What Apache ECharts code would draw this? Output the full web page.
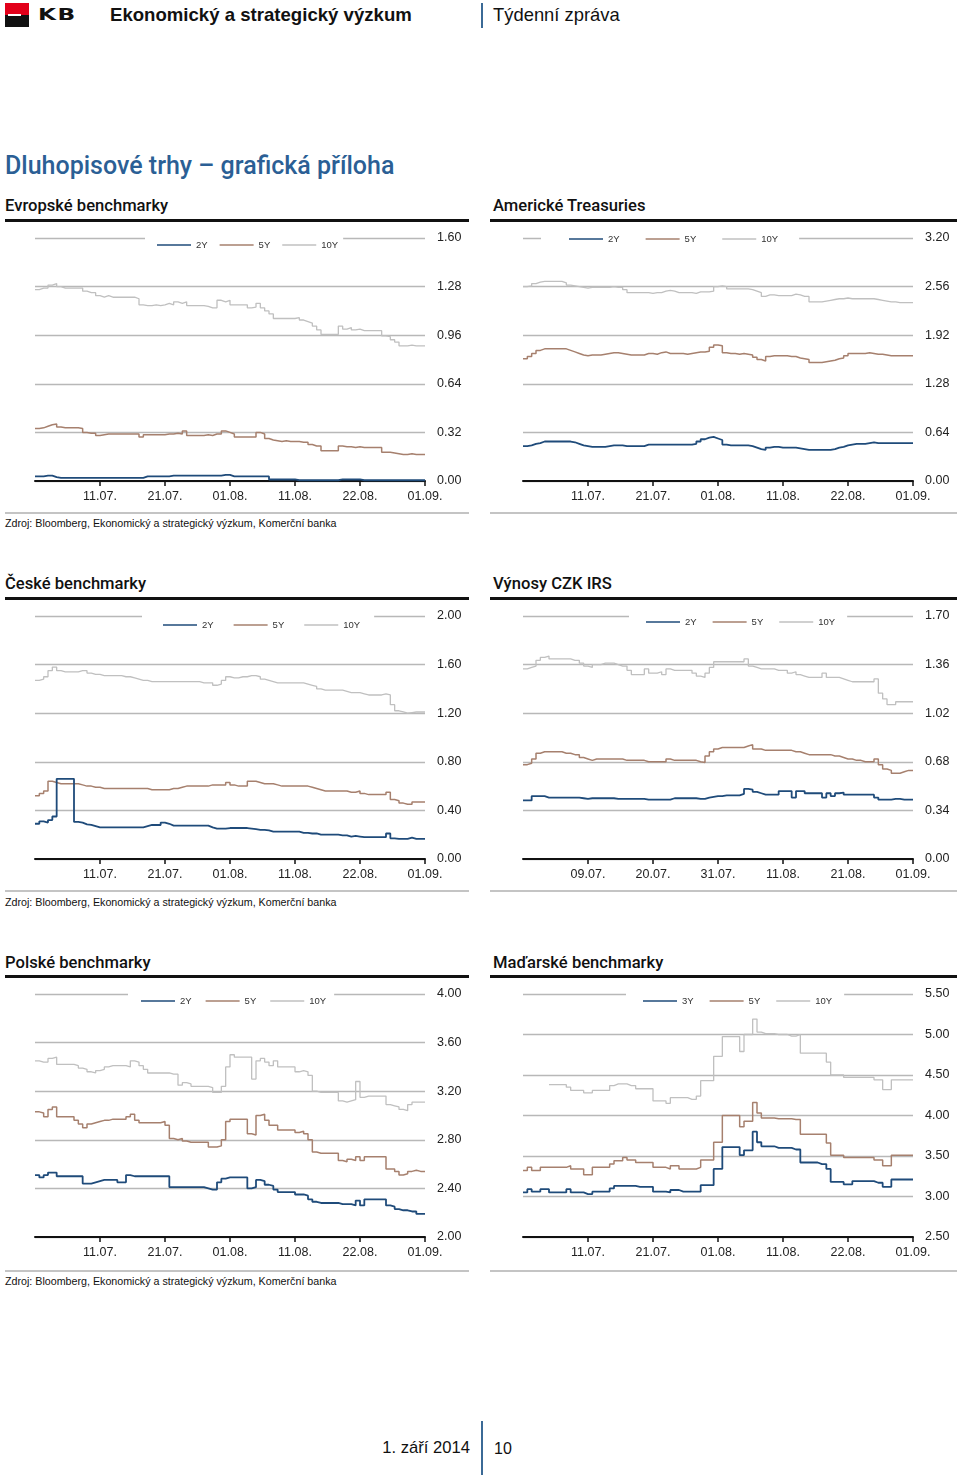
<!DOCTYPE html>
<html><head><meta charset="utf-8">
<script src="https://cdn.jsdelivr.net/npm/echarts/dist/echarts.min.js"></script>
<style>
body{margin:0;width:960px;height:1475px;position:relative;background:#fff;font-family:'Liberation Sans',Arial,sans-serif;color:#111;overflow:hidden}
.t{position:absolute;line-height:1;white-space:nowrap}
.h{font-family:Roboto,'Liberation Sans',sans-serif;font-weight:500;font-size:16.6px;color:#111}
.src{font-size:10.7px;color:#111}
.rule{position:absolute;height:3px;background:#111}
.grule{position:absolute;height:2px;background:#c4c4c4}
.chart{position:absolute;width:480px;height:300px}
</style></head><body>
<!-- header -->
<div style="position:absolute;left:5px;top:3px;width:24px;height:12px;background:#e2001a"></div>
<div style="position:absolute;left:5px;top:15px;width:24px;height:12px;background:#111"></div>
<div style="position:absolute;left:8px;top:14px;width:13px;height:2px;background:#fff"></div>
<div class="t" style="left:38px;top:8px;font-size:15px;font-weight:bold;letter-spacing:1px;font-family:'DejaVu Sans',sans-serif;transform:scaleX(1.55);transform-origin:0 0">KB</div>
<div class="t" style="left:110px;top:6px;font-size:18.6px;font-weight:bold">Ekonomický a strategický výzkum</div>
<div style="position:absolute;left:481px;top:3px;width:2px;height:25px;background:#3b6a96"></div>
<div class="t" style="left:493px;top:6px;font-size:18.4px">Týdenní zpráva</div>
<div class="t" style="left:5px;top:153px;font-size:25px;font-weight:500;color:#2b5f95;font-family:Roboto,'Liberation Sans',sans-serif">Dluhopisové trhy – grafická příloha</div>

<!-- row 1 -->
<div class="t h" style="left:5px;top:198px">Evropské benchmarky</div>
<div class="t h" style="left:493px;top:198px">Americké Treasuries</div>
<div class="rule" style="left:5px;top:219px;width:464px"></div>
<div class="rule" style="left:490px;top:219px;width:467px"></div>
<div class="grule" style="left:5px;top:512px;width:464px"></div>
<div class="grule" style="left:490px;top:512px;width:467px"></div>
<div class="t src" style="left:5px;top:518px">Zdroj: Bloomberg, Ekonomický a strategický výzkum, Komerční banka</div>
<div id="c1" class="chart" style="left:0;top:218px"></div>
<div id="c2" class="chart" style="left:480px;top:218px"></div>

<!-- row 2 -->
<div class="t h" style="left:5px;top:576px">České benchmarky</div>
<div class="t h" style="left:493px;top:576px">Výnosy CZK IRS</div>
<div class="rule" style="left:5px;top:597px;width:464px"></div>
<div class="rule" style="left:490px;top:597px;width:467px"></div>
<div class="grule" style="left:5px;top:890px;width:464px"></div>
<div class="grule" style="left:490px;top:890px;width:467px"></div>
<div class="t src" style="left:5px;top:897px">Zdroj: Bloomberg, Ekonomický a strategický výzkum, Komerční banka</div>
<div id="c3" class="chart" style="left:0;top:596px"></div>
<div id="c4" class="chart" style="left:480px;top:596px"></div>

<!-- row 3 -->
<div class="t h" style="left:5px;top:955px">Polské benchmarky</div>
<div class="t h" style="left:493px;top:955px">Maďarské benchmarky</div>
<div class="rule" style="left:5px;top:975px;width:464px"></div>
<div class="rule" style="left:490px;top:975px;width:467px"></div>
<div class="grule" style="left:5px;top:1270px;width:464px"></div>
<div class="grule" style="left:490px;top:1270px;width:467px"></div>
<div class="t src" style="left:5px;top:1276px">Zdroj: Bloomberg, Ekonomický a strategický výzkum, Komerční banka</div>
<div id="c5" class="chart" style="left:0;top:974px"></div>
<div id="c6" class="chart" style="left:480px;top:974px"></div>

<!-- footer -->
<div class="t" style="right:490px;top:1440px;font-size:16.6px">1. září 2014</div>
<div style="position:absolute;left:481px;top:1421px;width:2px;height:54px;background:#3b6a96"></div>
<div class="t" style="left:494px;top:1441px;font-size:16px">10</div>

<script>
// ---- axis / tick data ----
const tickIdx = [15, 30, 45, 60, 75, 90];
const ticksStd = ['11.07.', '21.07.', '01.08.', '11.08.', '22.08.', '01.09.'];
const ticksIrs = ['09.07.', '20.07.', '31.07.', '11.08.', '21.08.', '01.09.'];
const categories = Array.from({length: 91}, (_, i) => i);
const namesStd = ['2Y', '5Y', '10Y'];
const namesHu = ['3Y', '5Y', '10Y'];

// ---- Evropské benchmarky ----
const eu2y = [0.03,0.03,0.035,0.035,0.025,0.02,0.02,0.02,0.02,0.02,
0.02,0.02,0.02,0.02,0.02,0.02,0.02,0.02,0.02,0.02,
0.02,0.02,0.02,0.02,0.02,0.03,0.03,0.03,0.03,0.03,
0.03,0.035,0.035,0.035,0.035,0.035,0.035,0.035,0.035,0.035,
0.035,0.035,0.035,0.04,0.04,0.03,0.03,0.03,0.03,0.03,
0.03,0.03,0.03,0.03,0.01,0.01,0.01,0.01,0.01,0.01,
0.005,0.005,0.005,0.005,0.005,0.005,0.005,0.005,0.005,0.005,
0.01,0.01,0.01,0.01,0.01,0.005,0.005,0.005,0.005,0.005,
0.005,0.005,0.005,0.005,0.005,0.005,0.005,0.005,0.005,0.005,
0.005];
const eu5y = [0.345,0.35,0.36,0.37,0.375,0.355,0.35,0.35,0.35,0.35,
0.345,0.32,0.315,0.315,0.30,0.305,0.31,0.31,0.31,0.31,
0.31,0.31,0.31,0.31,0.29,0.305,0.305,0.305,0.305,0.305,
0.31,0.31,0.315,0.31,0.33,0.30,0.30,0.30,0.30,0.305,
0.30,0.31,0.31,0.33,0.32,0.31,0.29,0.29,0.29,0.29,
0.29,0.32,0.31,0.28,0.27,0.265,0.26,0.265,0.26,0.26,
0.26,0.255,0.255,0.24,0.23,0.23,0.20,0.20,0.20,0.20,
0.23,0.225,0.225,0.22,0.225,0.22,0.22,0.22,0.22,0.22,
0.19,0.19,0.185,0.18,0.175,0.175,0.18,0.175,0.175,0.175,
0.175];
const eu10y = [1.26,1.27,1.27,1.29,1.30,1.28,1.27,1.27,1.27,1.27,
1.27,1.25,1.24,1.24,1.22,1.21,1.22,1.21,1.21,1.21,
1.21,1.21,1.21,1.20,1.16,1.155,1.155,1.16,1.155,1.16,
1.17,1.16,1.18,1.17,1.18,1.155,1.155,1.155,1.155,1.15,
1.14,1.14,1.19,1.18,1.19,1.16,1.16,1.16,1.16,1.14,
1.145,1.17,1.14,1.12,1.10,1.07,1.07,1.07,1.07,1.07,
1.075,1.06,1.05,1.04,1.02,0.995,0.965,0.965,0.965,0.965,
1.02,1.00,1.01,0.995,1.00,0.99,0.99,0.99,0.99,0.99,
0.955,0.95,0.93,0.915,0.89,0.89,0.895,0.89,0.89,0.89,
0.89];

// ---- Americké Treasuries ----
const us2y = [0.46,0.47,0.49,0.50,0.52,0.52,0.52,0.52,0.52,0.52,
0.52,0.51,0.49,0.47,0.46,0.45,0.45,0.45,0.45,0.46,
0.47,0.47,0.47,0.46,0.46,0.46,0.46,0.46,0.48,0.48,
0.48,0.48,0.48,0.48,0.48,0.48,0.48,0.48,0.48,0.49,
0.52,0.55,0.57,0.58,0.56,0.54,0.48,0.47,0.47,0.47,
0.47,0.47,0.46,0.44,0.42,0.41,0.44,0.45,0.45,0.44,
0.44,0.44,0.44,0.43,0.42,0.41,0.41,0.41,0.41,0.41,
0.41,0.42,0.44,0.45,0.47,0.48,0.49,0.49,0.49,0.50,
0.51,0.50,0.50,0.50,0.50,0.50,0.50,0.50,0.50,0.50,
0.50];
const us5y = [1.61,1.64,1.68,1.72,1.74,1.74,1.74,1.74,1.74,1.74,
1.72,1.70,1.68,1.66,1.65,1.66,1.66,1.66,1.67,1.68,
1.69,1.69,1.68,1.67,1.66,1.66,1.66,1.66,1.68,1.68,
1.67,1.69,1.70,1.68,1.68,1.68,1.68,1.67,1.68,1.69,
1.70,1.70,1.71,1.76,1.79,1.78,1.69,1.68,1.68,1.67,
1.68,1.67,1.66,1.63,1.60,1.58,1.64,1.65,1.65,1.65,
1.65,1.64,1.64,1.62,1.61,1.60,1.56,1.56,1.56,1.57,
1.58,1.59,1.61,1.62,1.65,1.68,1.68,1.68,1.68,1.69,
1.68,1.67,1.67,1.66,1.65,1.65,1.65,1.65,1.65,1.65,
1.65];
const us10y = [2.56,2.57,2.60,2.62,2.63,2.63,2.63,2.63,2.63,2.61,
2.58,2.57,2.56,2.55,2.54,2.55,2.55,2.55,2.55,2.55,
2.56,2.55,2.55,2.52,2.48,2.48,2.48,2.48,2.48,2.47,
2.48,2.48,2.50,2.51,2.50,2.48,2.48,2.48,2.48,2.47,
2.49,2.49,2.49,2.50,2.56,2.57,2.56,2.53,2.53,2.53,
2.53,2.53,2.52,2.50,2.48,2.43,2.45,2.45,2.44,2.44,
2.44,2.44,2.46,2.45,2.43,2.43,2.36,2.36,2.36,2.37,
2.38,2.39,2.40,2.40,2.41,2.40,2.40,2.40,2.40,2.40,
2.40,2.39,2.38,2.37,2.36,2.36,2.35,2.35,2.35,2.35,
2.35];

// ---- České benchmarky ----
const cz2y = [0.29,0.31,0.30,0.32,0.35,0.66,0.66,0.66,0.66,0.305,
0.30,0.285,0.28,0.27,0.26,0.26,0.26,0.26,0.26,0.26,
0.26,0.26,0.26,0.26,0.26,0.27,0.28,0.28,0.28,0.30,
0.29,0.275,0.275,0.275,0.275,0.275,0.275,0.275,0.275,0.275,
0.26,0.25,0.25,0.25,0.255,0.255,0.255,0.255,0.255,0.25,
0.245,0.24,0.24,0.235,0.225,0.225,0.225,0.225,0.225,0.225,
0.225,0.215,0.215,0.21,0.21,0.20,0.20,0.20,0.20,0.20,
0.195,0.195,0.185,0.19,0.185,0.18,0.18,0.18,0.18,0.18,
0.18,0.21,0.17,0.165,0.165,0.165,0.175,0.165,0.165,0.165,
0.165];
const cz5y = [0.52,0.54,0.56,0.64,0.63,0.62,0.62,0.62,0.62,0.62,
0.61,0.60,0.60,0.59,0.59,0.58,0.58,0.58,0.58,0.58,
0.58,0.58,0.58,0.58,0.58,0.58,0.57,0.57,0.57,0.57,
0.57,0.58,0.58,0.59,0.60,0.60,0.60,0.60,0.60,0.60,
0.61,0.61,0.61,0.61,0.63,0.61,0.60,0.60,0.60,0.64,
0.64,0.63,0.62,0.62,0.62,0.61,0.60,0.60,0.60,0.60,
0.60,0.60,0.60,0.59,0.58,0.57,0.56,0.56,0.56,0.56,
0.56,0.56,0.55,0.55,0.56,0.54,0.53,0.53,0.53,0.53,
0.53,0.55,0.49,0.48,0.46,0.45,0.45,0.47,0.47,0.47,
0.47];
const cz10y = [1.47,1.48,1.50,1.55,1.58,1.55,1.54,1.54,1.54,1.54,
1.55,1.55,1.53,1.52,1.52,1.51,1.51,1.51,1.51,1.51,
1.50,1.50,1.49,1.48,1.47,1.47,1.46,1.46,1.46,1.46,
1.46,1.46,1.46,1.46,1.46,1.46,1.46,1.46,1.45,1.45,
1.45,1.43,1.44,1.47,1.50,1.49,1.49,1.50,1.50,1.51,
1.51,1.50,1.48,1.47,1.46,1.45,1.45,1.45,1.45,1.45,
1.45,1.45,1.44,1.43,1.42,1.40,1.39,1.39,1.39,1.39,
1.39,1.38,1.37,1.37,1.37,1.36,1.35,1.35,1.35,1.35,
1.36,1.35,1.27,1.22,1.21,1.20,1.205,1.21,1.21,1.21,
1.21];

// ---- Výnosy CZK IRS ----
const irs2y = [0.41,0.41,0.44,0.44,0.44,0.43,0.43,0.43,0.43,0.43,
0.43,0.43,0.43,0.425,0.42,0.425,0.425,0.425,0.425,0.425,
0.425,0.42,0.42,0.42,0.42,0.42,0.42,0.42,0.415,0.415,
0.415,0.415,0.415,0.415,0.425,0.425,0.425,0.425,0.425,0.425,
0.42,0.42,0.43,0.435,0.44,0.44,0.445,0.445,0.445,0.445,
0.455,0.49,0.485,0.47,0.46,0.45,0.45,0.45,0.45,0.475,
0.475,0.475,0.43,0.475,0.475,0.46,0.46,0.46,0.46,0.43,
0.46,0.44,0.46,0.465,0.45,0.45,0.45,0.45,0.45,0.45,
0.45,0.43,0.415,0.415,0.415,0.42,0.42,0.415,0.415,0.415,
0.415];
const irs5y = [0.66,0.67,0.70,0.74,0.75,0.75,0.75,0.75,0.75,0.74,
0.74,0.73,0.73,0.71,0.70,0.69,0.70,0.70,0.70,0.70,
0.70,0.70,0.70,0.69,0.69,0.69,0.69,0.69,0.68,0.68,
0.68,0.68,0.68,0.70,0.69,0.69,0.69,0.69,0.69,0.69,
0.68,0.675,0.72,0.75,0.77,0.78,0.78,0.78,0.78,0.78,
0.78,0.79,0.80,0.77,0.77,0.76,0.76,0.76,0.76,0.76,
0.76,0.76,0.75,0.75,0.74,0.73,0.73,0.73,0.73,0.73,
0.73,0.72,0.72,0.71,0.70,0.70,0.69,0.69,0.68,0.68,
0.68,0.70,0.66,0.63,0.62,0.60,0.60,0.61,0.62,0.62,
0.62];
const irs10y = [1.33,1.34,1.35,1.39,1.41,1.42,1.40,1.40,1.40,1.40,
1.40,1.39,1.39,1.37,1.35,1.34,1.36,1.36,1.37,1.37,
1.37,1.36,1.35,1.35,1.32,1.29,1.29,1.29,1.33,1.30,
1.30,1.31,1.29,1.33,1.32,1.32,1.32,1.32,1.32,1.30,
1.28,1.27,1.30,1.34,1.38,1.38,1.38,1.38,1.38,1.38,
1.38,1.40,1.35,1.34,1.33,1.33,1.33,1.33,1.32,1.32,
1.32,1.30,1.31,1.29,1.28,1.27,1.27,1.27,1.27,1.30,
1.27,1.27,1.27,1.26,1.25,1.24,1.24,1.24,1.24,1.24,
1.24,1.26,1.16,1.12,1.08,1.08,1.10,1.10,1.10,1.10,
1.10];

// ---- Polské benchmarky ----
const pl2y = [2.51,2.49,2.51,2.53,2.53,2.50,2.50,2.50,2.50,2.50,
2.50,2.44,2.44,2.45,2.46,2.47,2.47,2.47,2.47,2.45,
2.45,2.51,2.50,2.50,2.50,2.50,2.50,2.50,2.50,2.50,
2.50,2.41,2.41,2.41,2.41,2.41,2.41,2.41,2.41,2.40,
2.39,2.39,2.45,2.48,2.49,2.49,2.49,2.49,2.49,2.40,
2.41,2.47,2.46,2.43,2.42,2.39,2.37,2.37,2.37,2.37,
2.35,2.35,2.34,2.31,2.29,2.28,2.28,2.28,2.28,2.28,
2.27,2.27,2.27,2.26,2.30,2.26,2.31,2.31,2.31,2.31,
2.31,2.26,2.25,2.23,2.22,2.22,2.21,2.21,2.19,2.19,
2.19];
const pl5y = [3.03,3.02,2.99,3.05,3.07,2.99,2.99,2.99,2.99,2.96,
2.93,2.90,2.93,2.94,2.95,2.96,2.96,2.97,2.97,2.97,
2.97,2.99,3.01,2.96,2.94,2.94,2.94,2.94,2.94,2.95,
2.92,2.81,2.80,2.81,2.79,2.78,2.78,2.78,2.78,2.78,
2.74,2.74,2.75,2.80,2.95,2.97,2.97,2.97,2.97,2.85,
2.84,3.00,3.01,2.96,2.92,2.92,2.88,2.88,2.88,2.88,
2.86,2.87,2.85,2.80,2.70,2.69,2.69,2.69,2.69,2.69,
2.63,2.62,2.64,2.63,2.66,2.63,2.66,2.66,2.66,2.66,
2.66,2.56,2.56,2.54,2.51,2.52,2.54,2.55,2.54,2.54,
2.54];
const pl10y = [3.45,3.44,3.44,3.47,3.48,3.42,3.42,3.42,3.42,3.41,
3.39,3.38,3.36,3.35,3.37,3.38,3.40,3.41,3.41,3.41,
3.41,3.40,3.45,3.44,3.41,3.38,3.35,3.35,3.35,3.35,
3.35,3.34,3.34,3.25,3.27,3.26,3.24,3.24,3.24,3.24,
3.23,3.19,3.19,3.24,3.40,3.50,3.48,3.48,3.48,3.48,
3.30,3.45,3.47,3.44,3.41,3.45,3.40,3.40,3.40,3.40,
3.36,3.37,3.36,3.33,3.20,3.19,3.19,3.19,3.19,3.19,
3.12,3.11,3.12,3.13,3.28,3.15,3.16,3.16,3.16,3.16,
3.16,3.09,3.08,3.07,3.05,3.04,3.09,3.11,3.11,3.11,
3.11];

// ---- Maďarské benchmarky ----
const hu3y = [3.05,3.09,3.06,3.06,3.09,3.09,3.05,3.05,3.05,3.05,
3.09,3.05,3.05,3.05,3.03,3.03,3.06,3.06,3.06,3.06,
3.10,3.13,3.13,3.13,3.13,3.13,3.12,3.12,3.12,3.12,
3.06,3.06,3.06,3.05,3.08,3.08,3.06,3.06,3.06,3.06,
3.06,3.14,3.14,3.14,3.34,3.34,3.61,3.61,3.61,3.61,
3.51,3.57,3.57,3.80,3.67,3.62,3.62,3.62,3.60,3.60,
3.60,3.60,3.58,3.58,3.42,3.42,3.42,3.42,3.40,3.40,
3.34,3.18,3.18,3.18,3.15,3.15,3.19,3.19,3.19,3.19,
3.19,3.17,3.17,3.12,3.12,3.21,3.21,3.21,3.21,3.21,
3.21];
const hu5y = [3.32,3.36,3.32,3.32,3.36,3.36,3.36,3.36,3.36,3.36,
3.38,3.34,3.34,3.34,3.27,3.27,3.36,3.36,3.36,3.36,
3.40,3.44,3.44,3.48,3.45,3.45,3.42,3.42,3.42,3.42,
3.36,3.36,3.36,3.34,3.38,3.38,3.34,3.34,3.34,3.34,
3.36,3.45,3.45,3.45,3.67,3.67,4.00,4.00,4.00,4.00,
3.86,3.93,3.93,4.16,4.03,3.97,3.97,3.97,3.96,3.96,
3.96,3.96,3.95,3.95,3.77,3.77,3.77,3.77,3.77,3.77,
3.66,3.51,3.51,3.51,3.48,3.48,3.48,3.48,3.48,3.48,
3.48,3.45,3.45,3.38,3.38,3.51,3.51,3.51,3.51,3.51,
3.51];
const hu10y = [null,null,null,null,null,null,4.38,4.38,4.38,4.38,
4.35,4.31,4.31,4.31,4.28,4.28,4.31,4.31,4.31,4.31,
4.37,4.39,4.39,4.39,4.37,4.37,4.33,4.33,4.33,4.33,
4.18,4.18,4.18,4.15,4.22,4.22,4.22,4.22,4.20,4.20,
4.24,4.43,4.43,4.43,4.73,4.73,4.975,4.975,4.975,4.975,
4.79,5.00,5.00,5.19,5.03,5.01,5.01,5.01,5.00,5.00,
5.00,4.98,4.98,5.00,4.77,4.77,4.77,4.77,4.77,4.77,
4.66,4.50,4.50,4.50,4.47,4.47,4.47,4.47,4.47,4.47,
4.47,4.44,4.44,4.32,4.32,4.44,4.44,4.44,4.44,4.44,
4.44];

const FONT = "'Liberation Sans', Arial, sans-serif";
const COLORS = ['#1f4b7a', '#a6806e', '#c0c0c0'];
const WIDTHS = [1.8, 1.5, 1.3];

function build(id, o) {
  const chart = echarts.init(document.getElementById(id), null, {renderer: 'canvas'});
  const showAt = i => tickIdx.indexOf(Number(i)) >= 0;
  const series = [2, 1, 0].map(k => ({
    name: o.names[k], type: 'line', step: 'end', data: o.data[k],
    symbol: 'none', connectNulls: false, color: COLORS[k],
    lineStyle: {width: WIDTHS[k], color: COLORS[k]}, z: 3 + (2 - k)
  }));
  chart.setOption({
    animation: false,
    textStyle: {fontFamily: FONT},
    grid: {left: o.gridLeft, top: 20, width: 390, height: 243},
    legend: {
      data: o.names, left: o.lg[0], top: 16, padding: o.lg[1], itemGap: o.lg[2],
      itemWidth: 34, itemHeight: 1.5, icon: 'rect', backgroundColor: '#fff',
      selectedMode: false, textStyle: {fontSize: 9.5, color: '#333', fontFamily: FONT}
    },
    xAxis: {
      type: 'category', data: categories, boundaryGap: false,
      axisLine: {lineStyle: {color: '#111', width: 2}},
      axisTick: {interval: (i) => showAt(i), length: 5, lineStyle: {color: '#111', width: 1.5}},
      axisLabel: {interval: (i) => showAt(i), margin: 9, fontSize: 12.5, color: '#222', fontFamily: FONT,
        formatter: (v, i) => o.ticks[tickIdx.indexOf(Number(i))]},
      splitLine: {show: false}
    },
    yAxis: {
      type: 'value', position: 'right', min: o.y[0], max: o.y[1], interval: o.y[2],
      axisLine: {show: false}, axisTick: {show: false},
      axisLabel: {margin: 12, fontSize: 12.5, color: '#222', fontFamily: FONT, formatter: v => v.toFixed(2)},
      splitLine: {lineStyle: {color: '#b8b8b8', width: 1.3}}
    },
    series: series
  });
}

build('c1', {gridLeft: 35, ticks: ticksStd, names: namesStd, data: [eu2y, eu5y, eu10y],
  y: [0, 1.6, 0.32], lg: [145, [6, 5, 2, 12], 12]});
build('c2', {gridLeft: 43, ticks: ticksStd, names: namesStd, data: [us2y, us5y, us10y],
  y: [0, 3.2, 0.64], lg: [61, [0, 21, 4, 28], 26]});
build('c3', {gridLeft: 35, ticks: ticksStd, names: namesStd, data: [cz2y, cz5y, cz10y],
  y: [0, 2.0, 0.4], lg: [142, [8, 14, 2, 21], 20]});
build('c4', {gridLeft: 43, ticks: ticksIrs, names: namesStd, data: [irs2y, irs5y, irs10y],
  y: [0, 1.7, 0.34], lg: [149, [5, 12, 2, 17], 16]});
build('c5', {gridLeft: 35, ticks: ticksStd, names: namesStd, data: [pl2y, pl5y, pl10y],
  y: [2.0, 4.0, 0.4], lg: [128, [6, 8, 2, 13], 14]});
build('c6', {gridLeft: 43, ticks: ticksStd, names: namesHu, data: [hu3y, hu5y, hu10y],
  y: [2.5, 5.5, 0.5], lg: [146, [6, 12, 2, 17], 16]});
</script>
</body></html>
